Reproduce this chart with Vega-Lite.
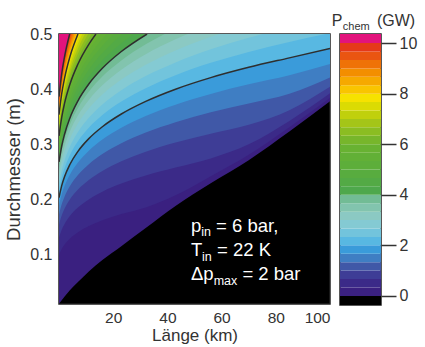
{
"$schema":"https://vega.github.io/schema/vega-lite/v6.json",
"padding":{"left":4,"top":12,"right":2,"bottom":0},
"bounds":"flush",
"spacing":10,
"config":{"font":"Liberation Sans","view":{"stroke":"#222","strokeWidth":1.5},"axis":{"labelColor":"#333","titleColor":"#333","labelFont":"Liberation Sans","titleFont":"Liberation Sans","titleFontWeight":"normal","grid":false,"domain":false}},
"datasets":{
"bands":[
{"k":0,"L":0,"D":0.011},{"k":0,"L":1,"D":0.017},{"k":0,"L":2,"D":0.023},{"k":0,"L":4,"D":0.035},{"k":0,"L":7,"D":0.05},{"k":0,"L":11,"D":0.069},{"k":0,"L":16,"D":0.09},{"k":0,"L":23,"D":0.115},{"k":0,"L":32,"D":0.148},{"k":0,"L":43,"D":0.188},{"k":0,"L":56,"D":0.229},{"k":0,"L":70,"D":0.271},{"k":0,"L":85,"D":0.323},{"k":0,"L":100,"D":0.378},
{"k":1,"L":0,"D":0.0991},{"k":1,"L":1,"D":0.1098},{"k":1,"L":2,"D":0.1174},{"k":1,"L":4,"D":0.1285},{"k":1,"L":7,"D":0.1402},{"k":1,"L":11,"D":0.1515},{"k":1,"L":16,"D":0.162},{"k":1,"L":23,"D":0.1733},{"k":1,"L":32,"D":0.1853},{"k":1,"L":43,"D":0.2074},{"k":1,"L":56,"D":0.2419},{"k":1,"L":70,"D":0.2809},{"k":1,"L":85,"D":0.3307},{"k":1,"L":100,"D":0.3843},
{"k":2,"L":0,"D":0.1308},{"k":2,"L":1,"D":0.1448},{"k":2,"L":2,"D":0.1549},{"k":2,"L":4,"D":0.1696},{"k":2,"L":7,"D":0.185},{"k":2,"L":11,"D":0.1998},{"k":2,"L":16,"D":0.2138},{"k":2,"L":23,"D":0.2286},{"k":2,"L":32,"D":0.2434},{"k":2,"L":43,"D":0.2577},{"k":2,"L":56,"D":0.2742},{"k":2,"L":70,"D":0.2999},{"k":2,"L":85,"D":0.3423},{"k":2,"L":100,"D":0.3925},
{"k":3,"L":0,"D":0.1538},{"k":3,"L":1,"D":0.1704},{"k":3,"L":2,"D":0.1822},{"k":3,"L":4,"D":0.1995},{"k":3,"L":7,"D":0.2176},{"k":3,"L":11,"D":0.235},{"k":3,"L":16,"D":0.2514},{"k":3,"L":23,"D":0.2689},{"k":3,"L":32,"D":0.2863},{"k":3,"L":43,"D":0.303},{"k":3,"L":56,"D":0.319},{"k":3,"L":70,"D":0.3351},{"k":3,"L":85,"D":0.3617},{"k":3,"L":100,"D":0.4042},
{"k":4,"L":0,"D":0.1726},{"k":4,"L":1,"D":0.1911},{"k":4,"L":2,"D":0.2044},{"k":4,"L":4,"D":0.2238},{"k":4,"L":7,"D":0.2441},{"k":4,"L":11,"D":0.2637},{"k":4,"L":16,"D":0.2821},{"k":4,"L":23,"D":0.3017},{"k":4,"L":32,"D":0.3212},{"k":4,"L":43,"D":0.34},{"k":4,"L":56,"D":0.3578},{"k":4,"L":70,"D":0.3738},{"k":4,"L":85,"D":0.3916},{"k":4,"L":100,"D":0.4212},
{"k":5,"L":0,"D":0.1887},{"k":5,"L":1,"D":0.209},{"k":5,"L":2,"D":0.2235},{"k":5,"L":4,"D":0.2447},{"k":5,"L":7,"D":0.2669},{"k":5,"L":11,"D":0.2883},{"k":5,"L":16,"D":0.3084},{"k":5,"L":23,"D":0.3298},{"k":5,"L":32,"D":0.3512},{"k":5,"L":43,"D":0.3717},{"k":5,"L":56,"D":0.3912},{"k":5,"L":70,"D":0.4086},{"k":5,"L":85,"D":0.4251},{"k":5,"L":100,"D":0.4454},
{"k":6,"L":0,"D":0.203},{"k":6,"L":1,"D":0.2248},{"k":6,"L":2,"D":0.2404},{"k":6,"L":4,"D":0.2632},{"k":6,"L":7,"D":0.2871},{"k":6,"L":11,"D":0.3101},{"k":6,"L":16,"D":0.3317},{"k":6,"L":23,"D":0.3548},{"k":6,"L":32,"D":0.3777},{"k":6,"L":43,"D":0.3998},{"k":6,"L":56,"D":0.4208},{"k":6,"L":70,"D":0.4395},{"k":6,"L":85,"D":0.4567},{"k":6,"L":100,"D":0.4736},
{"k":7,"L":0,"D":0.2159},{"k":7,"L":1,"D":0.2391},{"k":7,"L":2,"D":0.2557},{"k":7,"L":4,"D":0.2799},{"k":7,"L":7,"D":0.3054},{"k":7,"L":11,"D":0.3298},{"k":7,"L":16,"D":0.3528},{"k":7,"L":23,"D":0.3773},{"k":7,"L":32,"D":0.4017},{"k":7,"L":43,"D":0.4252},{"k":7,"L":56,"D":0.4476},{"k":7,"L":70,"D":0.4675},{"k":7,"L":85,"D":0.4857},{"k":7,"L":98.5,"D":0.5},
{"k":8,"L":0,"D":0.2277},{"k":8,"L":1,"D":0.2522},{"k":8,"L":2,"D":0.2697},{"k":8,"L":4,"D":0.2953},{"k":8,"L":7,"D":0.3221},{"k":8,"L":11,"D":0.3479},{"k":8,"L":16,"D":0.3722},{"k":8,"L":23,"D":0.3981},{"k":8,"L":32,"D":0.4238},{"k":8,"L":43,"D":0.4485},{"k":8,"L":56,"D":0.4721},{"k":8,"L":70,"D":0.4931},{"k":8,"L":75.1,"D":0.5},
{"k":9,"L":0,"D":0.2387},{"k":9,"L":1,"D":0.2644},{"k":9,"L":2,"D":0.2828},{"k":9,"L":4,"D":0.3095},{"k":9,"L":7,"D":0.3377},{"k":9,"L":11,"D":0.3647},{"k":9,"L":16,"D":0.3901},{"k":9,"L":23,"D":0.4173},{"k":9,"L":32,"D":0.4442},{"k":9,"L":43,"D":0.4702},{"k":9,"L":56,"D":0.4949},{"k":9,"L":59,"D":0.5},
{"k":10,"L":0,"D":0.249},{"k":10,"L":1,"D":0.2757},{"k":10,"L":2,"D":0.2949},{"k":10,"L":4,"D":0.3229},{"k":10,"L":7,"D":0.3522},{"k":10,"L":11,"D":0.3804},{"k":10,"L":16,"D":0.4069},{"k":10,"L":23,"D":0.4352},{"k":10,"L":32,"D":0.4634},{"k":10,"L":43,"D":0.4904},{"k":10,"L":47.5,"D":0.5},
{"k":11,"L":0,"D":0.2587},{"k":11,"L":1,"D":0.2865},{"k":11,"L":2,"D":0.3064},{"k":11,"L":4,"D":0.3354},{"k":11,"L":7,"D":0.3659},{"k":11,"L":11,"D":0.3952},{"k":11,"L":16,"D":0.4228},{"k":11,"L":23,"D":0.4521},{"k":11,"L":32,"D":0.4814},{"k":11,"L":39,"D":0.5},
{"k":12,"L":0,"D":0.2678},{"k":12,"L":1,"D":0.2966},{"k":12,"L":2,"D":0.3172},{"k":12,"L":4,"D":0.3473},{"k":12,"L":7,"D":0.3788},{"k":12,"L":11,"D":0.4092},{"k":12,"L":16,"D":0.4377},{"k":12,"L":23,"D":0.4682},{"k":12,"L":32.5,"D":0.5},
{"k":13,"L":0,"D":0.2765},{"k":13,"L":1,"D":0.3063},{"k":13,"L":2,"D":0.3276},{"k":13,"L":4,"D":0.3586},{"k":13,"L":7,"D":0.3912},{"k":13,"L":11,"D":0.4225},{"k":13,"L":16,"D":0.452},{"k":13,"L":23,"D":0.4834},{"k":13,"L":27.5,"D":0.5},
{"k":14,"L":0,"D":0.2848},{"k":14,"L":1,"D":0.3155},{"k":14,"L":2,"D":0.3374},{"k":14,"L":4,"D":0.3693},{"k":14,"L":7,"D":0.4029},{"k":14,"L":11,"D":0.4352},{"k":14,"L":16,"D":0.4655},{"k":14,"L":23.5,"D":0.5},
{"k":15,"L":0,"D":0.2928},{"k":15,"L":1,"D":0.3243},{"k":15,"L":2,"D":0.3469},{"k":15,"L":4,"D":0.3797},{"k":15,"L":7,"D":0.4142},{"k":15,"L":11,"D":0.4474},{"k":15,"L":16,"D":0.4786},{"k":15,"L":20.3,"D":0.5},
{"k":16,"L":0,"D":0.3005},{"k":16,"L":1,"D":0.3328},{"k":16,"L":2,"D":0.3559},{"k":16,"L":4,"D":0.3896},{"k":16,"L":7,"D":0.4251},{"k":16,"L":11,"D":0.4591},{"k":16,"L":16,"D":0.4911},{"k":16,"L":17.65,"D":0.5},
{"k":17,"L":0,"D":0.3078},{"k":17,"L":1,"D":0.3409},{"k":17,"L":2,"D":0.3647},{"k":17,"L":4,"D":0.3992},{"k":17,"L":7,"D":0.4355},{"k":17,"L":11,"D":0.4704},{"k":17,"L":15.46,"D":0.5},
{"k":18,"L":0,"D":0.315},{"k":18,"L":1,"D":0.3488},{"k":18,"L":2,"D":0.3731},{"k":18,"L":4,"D":0.4084},{"k":18,"L":7,"D":0.4456},{"k":18,"L":11,"D":0.4813},{"k":18,"L":13.63,"D":0.5},
{"k":19,"L":0,"D":0.3218},{"k":19,"L":1,"D":0.3564},{"k":19,"L":2,"D":0.3812},{"k":19,"L":4,"D":0.4173},{"k":19,"L":7,"D":0.4553},{"k":19,"L":11,"D":0.4918},{"k":19,"L":12.08,"D":0.5},
{"k":20,"L":0,"D":0.3285},{"k":20,"L":1,"D":0.3638},{"k":20,"L":2,"D":0.3891},{"k":20,"L":4,"D":0.426},{"k":20,"L":7,"D":0.4647},{"k":20,"L":10.75,"D":0.5},
{"k":21,"L":0,"D":0.335},{"k":21,"L":1,"D":0.371},{"k":21,"L":2,"D":0.3968},{"k":21,"L":4,"D":0.4344},{"k":21,"L":7,"D":0.4739},{"k":21,"L":9.61,"D":0.5},
{"k":22,"L":0,"D":0.3413},{"k":22,"L":1,"D":0.378},{"k":22,"L":2,"D":0.4043},{"k":22,"L":4,"D":0.4425},{"k":22,"L":7,"D":0.4828},{"k":22,"L":8.63,"D":0.5},
{"k":23,"L":0,"D":0.3474},{"k":23,"L":1,"D":0.3847},{"k":23,"L":2,"D":0.4115},{"k":23,"L":4,"D":0.4505},{"k":23,"L":7,"D":0.4914},{"k":23,"L":7.77,"D":0.5},
{"k":24,"L":0,"D":0.3534},{"k":24,"L":1,"D":0.3914},{"k":24,"L":2,"D":0.4186},{"k":24,"L":4,"D":0.4582},{"k":24,"L":7.01,"D":0.5},
{"k":25,"L":0,"D":0.3592},{"k":25,"L":1,"D":0.3978},{"k":25,"L":2,"D":0.4255},{"k":25,"L":4,"D":0.4658},{"k":25,"L":6.34,"D":0.5},
{"k":26,"L":0,"D":0.3649},{"k":26,"L":1,"D":0.4041},{"k":26,"L":2,"D":0.4322},{"k":26,"L":4,"D":0.4731},{"k":26,"L":5.75,"D":0.5},
{"k":27,"L":0,"D":0.3704},{"k":27,"L":1,"D":0.4102},{"k":27,"L":2,"D":0.4388},{"k":27,"L":4,"D":0.4803},{"k":27,"L":5.22,"D":0.5},
{"k":28,"L":0,"D":0.3758},{"k":28,"L":1,"D":0.4162},{"k":28,"L":2,"D":0.4452},{"k":28,"L":4,"D":0.4874},{"k":28,"L":4.75,"D":0.5},
{"k":29,"L":0,"D":0.3811},{"k":29,"L":1,"D":0.4221},{"k":29,"L":2,"D":0.4515},{"k":29,"L":4,"D":0.4942},{"k":29,"L":4.33,"D":0.5},
{"k":30,"L":0,"D":0.3864},{"k":30,"L":1,"D":0.4279},{"k":30,"L":2,"D":0.4577},{"k":30,"L":3.95,"D":0.5}
],
"bar":[
{"k":-1,"lo":-0.36,"hi":0},{"k":0,"lo":0,"hi":0.3333},{"k":1,"lo":0.3333,"hi":0.6667},{"k":2,"lo":0.6667,"hi":1},{"k":3,"lo":1,"hi":1.3333},{"k":4,"lo":1.3333,"hi":1.6667},{"k":5,"lo":1.6667,"hi":2},{"k":6,"lo":2,"hi":2.3333},{"k":7,"lo":2.3333,"hi":2.6667},{"k":8,"lo":2.6667,"hi":3},{"k":9,"lo":3,"hi":3.3333},{"k":10,"lo":3.3333,"hi":3.6667},{"k":11,"lo":3.6667,"hi":4},{"k":12,"lo":4,"hi":4.3333},{"k":13,"lo":4.3333,"hi":4.6667},{"k":14,"lo":4.6667,"hi":5},{"k":15,"lo":5,"hi":5.3333},{"k":16,"lo":5.3333,"hi":5.6667},{"k":17,"lo":5.6667,"hi":6},{"k":18,"lo":6,"hi":6.3333},{"k":19,"lo":6.3333,"hi":6.6667},{"k":20,"lo":6.6667,"hi":7},{"k":21,"lo":7,"hi":7.3333},{"k":22,"lo":7.3333,"hi":7.6667},{"k":23,"lo":7.6667,"hi":8},{"k":24,"lo":8,"hi":8.3333},{"k":25,"lo":8.3333,"hi":8.6667},{"k":26,"lo":8.6667,"hi":9},{"k":27,"lo":9,"hi":9.3333},{"k":28,"lo":9.3333,"hi":9.6667},{"k":29,"lo":9.6667,"hi":10},{"k":30,"lo":10,"hi":10.36}
]
},
"resolve":{"scale":{"x":"independent","y":"independent","color":"shared"}},
"hconcat":[
{
"width":271,"height":270,
"view":{"fill":"#000000","stroke":"#222","strokeWidth":1.5},
"layer":[
{"data":{"name":"bands"},
 "mark":{"type":"area","interpolate":"monotone","clip":true},
 "encoding":{
  "x":{"field":"L","type":"quantitative","scale":{"domain":[0,100],"nice":false,"zero":false},"axis":{"values":[20,40,60,80,100],"title":"Länge (km)","labelFontSize":15.5,"titleFontSize":17,"ticks":false,"labelPadding":6,"titlePadding":2}},
  "y":{"field":"D","type":"quantitative","stack":null,"scale":{"domain":[0.01,0.5],"nice":false,"zero":false},"axis":{"values":[0.1,0.2,0.3,0.4,0.5],"format":".1f","title":"Durchmesser (m)","labelFontSize":16,"titleFontSize":18.5,"ticks":false,"labelPadding":7,"titlePadding":6}},
  "y2":{"datum":0.5},
  "color":{"field":"k","type":"ordinal","legend":null,"scale":{"domain":[-1,0,1,2,3,4,5,6,7,8,9,10,11,12,13,14,15,16,17,18,19,20,21,22,23,24,25,26,27,28,29,30],"range":["#000000","#3a2080","#3b2a88","#3e3d96","#4058a7","#3f7ec3","#3a9bda","#58b8e2","#72c4dc","#84cad3","#8bc9c3","#82c4ae","#72bc95","#4ea84c","#53aa45","#58ac3f","#5dae3a","#62b036","#68b232","#77b62b","#8bbd22","#a4c518","#c0d00c","#dbdb03","#f6e200","#f9c500","#f6a900","#f38e00","#ef7207","#ea5511","#e5391a","#e2137c"]}}
 }},
{"data":{"name":"bands"},
 "transform":[{"filter":"datum.k > 0 && datum.k % 6 == 0"}],
 "mark":{"type":"line","interpolate":"monotone","color":"#2e2e2e","strokeWidth":1.5,"clip":true},
 "encoding":{"x":{"field":"L","type":"quantitative"},"y":{"field":"D","type":"quantitative"},"detail":{"field":"k","type":"ordinal"}}},
{"data":{"values":[{}]},"mark":{"type":"text","text":"p","align":"left","baseline":"alphabetic","fontSize":18.5,"color":"#ffffff"},"encoding":{"x":{"datum":48.7,"type":"quantitative"},"y":{"datum":0.1407,"type":"quantitative"}}},
{"data":{"values":[{}]},"mark":{"type":"text","text":"in","align":"left","baseline":"alphabetic","fontSize":12.5,"dx":10.3,"dy":4.5,"color":"#ffffff"},"encoding":{"x":{"datum":48.7,"type":"quantitative"},"y":{"datum":0.1407,"type":"quantitative"}}},
{"data":{"values":[{}]},"mark":{"type":"text","text":"= 6 bar,","align":"left","baseline":"alphabetic","fontSize":18.5,"dx":25.1,"color":"#ffffff"},"encoding":{"x":{"datum":48.7,"type":"quantitative"},"y":{"datum":0.1407,"type":"quantitative"}}},
{"data":{"values":[{}]},"mark":{"type":"text","text":"T","align":"left","baseline":"alphabetic","fontSize":18.5,"color":"#ffffff"},"encoding":{"x":{"datum":48.7,"type":"quantitative"},"y":{"datum":0.0971,"type":"quantitative"}}},
{"data":{"values":[{}]},"mark":{"type":"text","text":"in","align":"left","baseline":"alphabetic","fontSize":12.5,"dx":11,"dy":4.5,"color":"#ffffff"},"encoding":{"x":{"datum":48.7,"type":"quantitative"},"y":{"datum":0.0971,"type":"quantitative"}}},
{"data":{"values":[{}]},"mark":{"type":"text","text":"= 22 K","align":"left","baseline":"alphabetic","fontSize":18.5,"dx":26,"color":"#ffffff"},"encoding":{"x":{"datum":48.7,"type":"quantitative"},"y":{"datum":0.0971,"type":"quantitative"}}},
{"data":{"values":[{}]},"mark":{"type":"text","text":"Δp","align":"left","baseline":"alphabetic","fontSize":18.5,"color":"#ffffff"},"encoding":{"x":{"datum":48.7,"type":"quantitative"},"y":{"datum":0.0535,"type":"quantitative"}}},
{"data":{"values":[{}]},"mark":{"type":"text","text":"max","align":"left","baseline":"alphabetic","fontSize":12.5,"dx":22.7,"dy":4.5,"color":"#ffffff"},"encoding":{"x":{"datum":48.7,"type":"quantitative"},"y":{"datum":0.0535,"type":"quantitative"}}},
{"data":{"values":[{}]},"mark":{"type":"text","text":"= 2 bar","align":"left","baseline":"alphabetic","fontSize":18.5,"dx":51.4,"color":"#ffffff"},"encoding":{"x":{"datum":48.7,"type":"quantitative"},"y":{"datum":0.0535,"type":"quantitative"}}}
]
},
{
"width":41,"height":271,
"view":{"stroke":"#222","strokeWidth":1.5},
"layer":[
{"data":{"name":"bar"},
 "mark":{"type":"rect"},
 "encoding":{
  "x":{"datum":0,"type":"quantitative","scale":{"domain":[0,1],"nice":false,"zero":false},"axis":null},
  "x2":{"datum":1},
  "y":{"field":"lo","type":"quantitative","scale":{"domain":[-0.36,10.36],"nice":false,"zero":false},"axis":{"orient":"right","values":[0,2,4,6,8,10],"title":null,"tickSize":15,"tickWidth":1.5,"tickColor":"#333","labelPadding":3,"labelFontSize":16}},
  "y2":{"field":"hi"},
  "color":{"field":"k","type":"ordinal","legend":null}
 }},
{"data":{"values":[{}]},"mark":{"type":"text","text":"P","align":"left","baseline":"alphabetic","fontSize":16,"color":"#333"},"encoding":{"x":{"datum":-0.2,"type":"quantitative","axis":null},"y":{"datum":10.68,"type":"quantitative"}}},
{"data":{"values":[{}]},"mark":{"type":"text","text":"chem","align":"left","baseline":"alphabetic","fontSize":11,"color":"#333"},"encoding":{"x":{"datum":0.07,"type":"quantitative","axis":null},"y":{"datum":10.52,"type":"quantitative"}}},
{"data":{"values":[{}]},"mark":{"type":"text","text":"(GW)","align":"left","baseline":"alphabetic","fontSize":16,"color":"#333"},"encoding":{"x":{"datum":0.9,"type":"quantitative","axis":null},"y":{"datum":10.68,"type":"quantitative"}}}
]
}
]
}
